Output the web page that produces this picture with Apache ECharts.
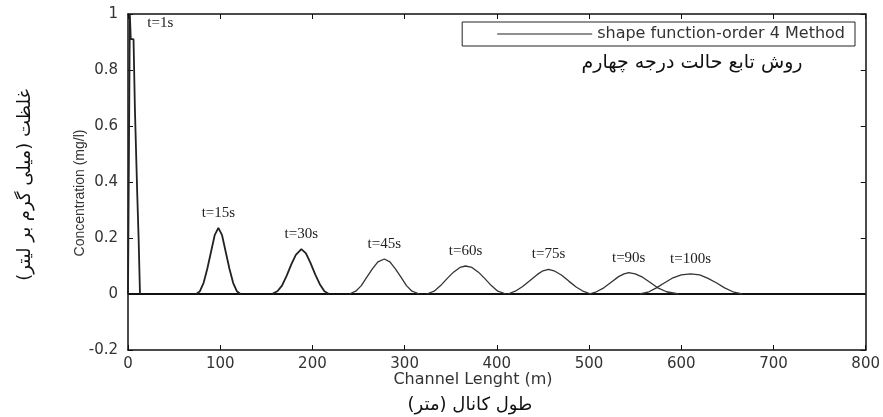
<!DOCTYPE html>
<html>
<head>
<meta charset="utf-8">
<script src="https://cdn.jsdelivr.net/npm/echarts@6/dist/echarts.min.js"></script>
<style>html,body{margin:0;padding:0;background:#fff}#c{width:883px;height:417px}</style>
</head>
<body>
<div id="c"></div>
<script>
// ---- data ----
const xTicks = [0, 100, 200, 300, 400, 500, 600, 700, 800];
const yTicks = [-0.2, 0, 0.2, 0.4, 0.6, 0.8, 1];
const timeLabels = ['t=1s', 't=15s', 't=30s', 't=45s', 't=60s', 't=75s', 't=90s', 't=100s'];
const seriesName = 'shape function-order 4 Method';

const curveT1 = [[0,0],[0.5,0.245],[2,1.0],[3,0.91],[6,0.91],[7.5,0.66],[9.5,0.66],[10,0.36],[11.5,0.2],[13,0]];
const curveT15 = [[74,0],[78,0.01],[82,0.04],[86,0.09],[90,0.15],[94,0.21],[98,0.236],[102,0.21],[106,0.15],[110,0.09],[114,0.04],[118,0.01],[122,0]];
const curveT30 = [[156,0],[162,0.01],[167,0.03],[172,0.065],[177,0.105],[182,0.14],[188,0.16],[193,0.145],[198,0.11],[203,0.07],[208,0.035],[213,0.01],[218,0]];
const curveT45 = [[240,0],[247,0.01],[253,0.03],[259,0.06],[265,0.09],[271,0.115],[278,0.125],[284,0.115],[290,0.09],[296,0.06],[302,0.03],[308,0.01],[316,0]];
const curveT60 = [[324,0],[332,0.01],[339,0.03],[346,0.055],[353,0.078],[360,0.095],[366,0.1],[373,0.095],[380,0.078],[387,0.055],[394,0.03],[401,0.01],[410,0]];
const curveT75 = [[412,0],[420,0.01],[428,0.027],[436,0.048],[444,0.07],[450,0.083],[456,0.088],[462,0.083],[470,0.068],[478,0.046],[486,0.025],[494,0.009],[502,0]];
const curveT90 = [[500,0],[508,0.008],[516,0.022],[524,0.042],[532,0.062],[538,0.072],[543,0.076],[550,0.072],[558,0.06],[566,0.042],[574,0.023],[584,0.008],[597,0]];
const curveT100 = [[555,0],[565,0.008],[573,0.022],[582,0.04],[591,0.058],[600,0.068],[610,0.072],[620,0.068],[629,0.056],[638,0.04],[647,0.022],[656,0.008],[666,0]];
const baseline = [[0,0],[800,0]];

const curves = [curveT1, curveT15, curveT30, curveT45, curveT60, curveT75, curveT90, curveT100];

// ---- chart ----
const chart = echarts.init(document.getElementById('c'), null, {renderer: 'canvas'});
const tickFont = {fontFamily: 'DejaVu Sans', fontSize: 15, color: '#333'};

const series = [{
  name: seriesName, type: 'line', data: baseline, symbol: 'none',
  lineStyle: {color: '#111', width: 2}, itemStyle: {color: '#222'}, z: 3, silent: true
}];
curves.forEach((c, i) => {
  series.push({
    name: seriesName, type: 'line', data: c, symbol: 'none',
    itemStyle: {color: '#222'},
    lineStyle: {color: i < 3 ? '#222' : '#333', width: i < 3 ? 1.8 : 1.3},
    markPoint: {
      symbol: 'circle', symbolSize: 1,
      itemStyle: {color: 'rgba(0,0,0,0)'},
      data: [{type: 'max', name: timeLabels[i]}],
      label: {
        show: true, formatter: timeLabels[i],
        position: i === 0 ? 'right' : 'top',
        distance: i === 0 ? 17 : 7,
        offset: i === 0 ? [0, 9] : [0, 0],
        fontFamily: 'Liberation Serif', fontSize: 15, color: '#222'
      }
    }
  });
});

chart.setOption({
  animation: false,
  backgroundColor: '#fff',
  grid: {left: 128, right: 17, top: 14, bottom: 67},
  legend: {
    show: true,
    data: [{name: seriesName, icon: 'rect', itemStyle: {color: '#222'}}],
    right: 28, top: 22,
    borderColor: '#222', borderWidth: 1, borderRadius: 0,
    padding: [4, 10, 4, 35],
    itemWidth: 95, itemHeight: 1.2, itemGap: 6,
    textStyle: {fontFamily: 'DejaVu Sans', fontSize: 16, color: '#333'}
  },
  xAxis: [{
    type: 'value', min: xTicks[0], max: xTicks[xTicks.length - 1], interval: 100,
    position: 'bottom',
    axisLine: {onZero: false, lineStyle: {color: '#111', width: 1.5}},
    axisTick: {inside: true, length: 5, lineStyle: {color: '#111'}},
    axisLabel: Object.assign({margin: 7}, tickFont),
    splitLine: {show: false}
  }, {
    type: 'value', min: xTicks[0], max: xTicks[xTicks.length - 1], interval: 100,
    position: 'top',
    axisLine: {onZero: false, lineStyle: {color: '#111', width: 1.5}},
    axisTick: {inside: true, length: 5, lineStyle: {color: '#111'}},
    axisLabel: {show: false},
    splitLine: {show: false}
  }],
  yAxis: [{
    type: 'value', min: yTicks[0], max: yTicks[yTicks.length - 1], interval: 0.2,
    position: 'left',
    axisLine: {onZero: false, lineStyle: {color: '#111', width: 1.5}},
    axisTick: {inside: true, length: 5, lineStyle: {color: '#111'}},
    axisLabel: Object.assign({margin: 10}, tickFont),
    splitLine: {show: false}
  }, {
    type: 'value', min: yTicks[0], max: yTicks[yTicks.length - 1], interval: 0.2,
    position: 'right',
    axisLine: {onZero: false, lineStyle: {color: '#111', width: 1.5}},
    axisTick: {inside: true, length: 5, lineStyle: {color: '#111'}},
    axisLabel: {show: false},
    splitLine: {show: false}
  }],
  series: series,
  graphic: [
    {type: 'text', x: 692, y: 63, style: {text: 'روش تابع حالت درجه چهارم', fontFamily: 'DejaVu Sans', fontSize: 19, fill: '#111', align: 'center', verticalAlign: 'middle'}},
    {type: 'text', x: 473, y: 380, style: {text: 'Channel Lenght (m)', fontFamily: 'DejaVu Sans', fontSize: 16, fill: '#333', align: 'center', verticalAlign: 'middle'}},
    {type: 'text', x: 470, y: 405, style: {text: 'طول کانال (متر)', fontFamily: 'DejaVu Sans', fontSize: 18, fill: '#111', align: 'center', verticalAlign: 'middle'}},
    {type: 'text', x: 80, y: 193, rotation: Math.PI / 2, style: {text: 'Concentration (mg/l)', fontFamily: 'Liberation Sans Narrow, Liberation Sans', fontSize: 14, fill: '#333', align: 'center', verticalAlign: 'middle'}},
    {type: 'text', x: 25, y: 185, rotation: Math.PI / 2, style: {text: 'غلظت (میلی گرم بر لیتر)', fontFamily: 'DejaVu Sans', fontSize: 18, fill: '#111', align: 'center', verticalAlign: 'middle'}}
  ]
});
</script>
</body>
</html>
